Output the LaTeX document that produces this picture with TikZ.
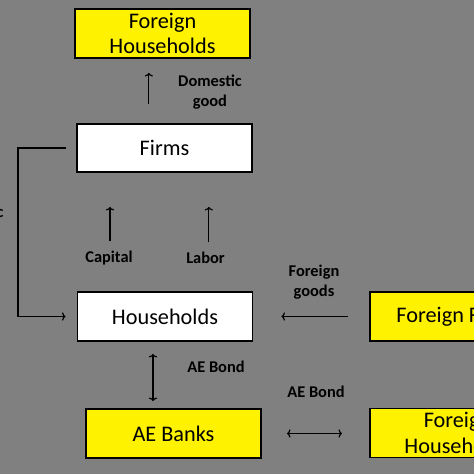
\documentclass[tikz,border=0pt]{standalone}
\usepackage{fontspec}
\setmainfont{Carlito}
\usetikzlibrary{arrows.meta}

\begin{document}
\begin{tikzpicture}[
    box/.style={rectangle, draw, line width=1.6pt, minimum width=5.25cm, minimum height=1.47cm,
                align=center, inner sep=2pt, font=\fontsize{19}{22}\selectfont},
    arr/.style={-{To[length=3pt,width=7pt]}, line width=1pt},
    dbl/.style={{To[length=3pt,width=7pt]}-{To[length=3pt,width=7pt]}, line width=1pt},
    lbl/.style={font=\fontsize{14}{17}\selectfont\bfseries, align=center, inner sep=1pt},
  ]

  % Background
  \fill[gray] (0,0) rectangle (14.22,14.22);
  \useasboundingbox (0,0) rectangle (14.22,14.22);

  % Domestic side
  \node[box, fill=yellow] (fhh) at (4.875, 13.215) {Foreign\\Households};
  \node[box, fill=white, minimum height=1.44cm] (firms) at (4.935, 9.78) {Firms};
  \node[box, fill=white] (hh) at (4.95, 4.725) {Households};
  \node[box, fill=yellow] (banks) at (5.205, 1.215) {AE Banks};

  % Foreign side
  \node[box, fill=yellow] (ffirms) at (13.725, 4.725) {Foreign Firms};
  \node[box, fill=yellow] (fhhb) at (13.725, 1.23) {Foreign\\Households};

  % Labels
  \node[lbl] (dgood) at (6.3, 11.46) {Domestic\\good};
  \node[lbl, anchor=east] (dgoodl) at (0.15, 7.53) {Domestic\\good};
  \node[lbl] (cap) at (3.27, 6.48) {Capital};
  \node[lbl] (lab) at (6.165, 6.48) {Labor};
  \node[lbl] (fgoods) at (9.42, 5.76) {Foreign\\goods};
  \node[lbl] (bond) at (6.48, 3.21) {AE Bond};
  \node[lbl] (bondf) at (9.48, 2.46) {AE Bond};

  % Flows
  \draw[arr, shorten <=0.57cm, shorten >=0.42cm] ([xshift=-0.47cm]firms.north) -- ([xshift=-0.47cm]firms.north |- fhh.south);
  \draw[arr, shorten <=0.25cm, shorten >=1.02cm] ([xshift=0.03cm]cap.north) -- ([xshift=0.03cm]cap.north |- firms.south);
  \draw[arr, shorten <=0.25cm, shorten >=1.02cm] ([xshift=0.1cm]lab.north) -- ([xshift=0.1cm]lab.north |- firms.south);
  \draw[arr, shorten <=0.3cm, shorten >=0.33cm] (firms.west) -- ++(-1.74,0) |- (hh.west);
  \draw[arr, shorten <=0.63cm, shorten >=0.84cm] (ffirms.west) -- (hh.east);
  \draw[dbl, shorten <=0.36cm, shorten >=0.21cm] ([xshift=-0.36cm]hh.south) -- ([xshift=-0.36cm]hh.south |- banks.north);
  \draw[dbl, shorten <=0.75cm, shorten >=0.81cm] (banks.east) -- (banks.east -| fhhb.west);

\end{tikzpicture}
\end{document}
